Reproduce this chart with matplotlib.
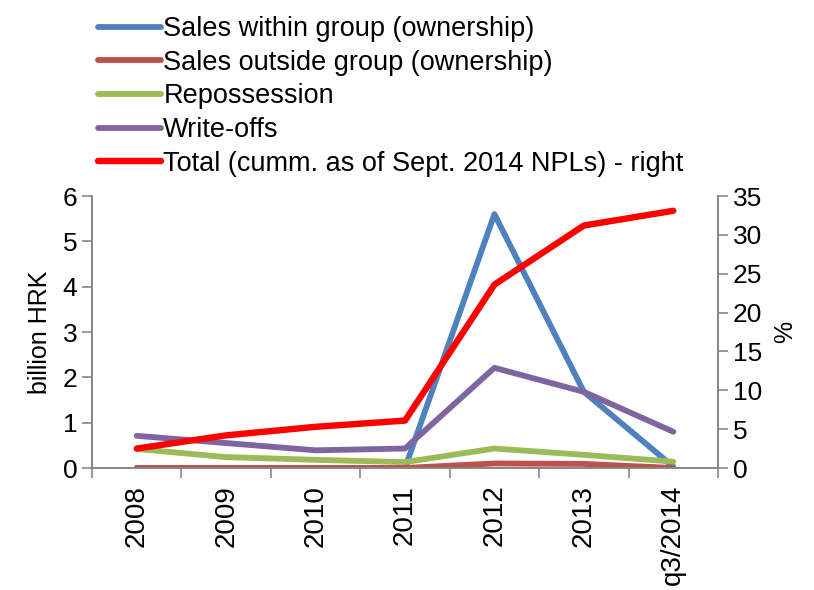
import numpy as np
import matplotlib.pyplot as plt

plt.rcParams['font.family'] = ['Liberation Sans Narrow', 'Liberation Sans', 'DejaVu Sans']

# data
years = ['2008', '2009', '2010', '2011', '2012', '2013', 'q3/2014']
sales_within = [0.0, 0.0, 0.0, 0.0, 5.6, 1.68, 0.03]
sales_outside = [0.0, 0.0, 0.0, 0.0, 0.1, 0.09, 0.0]
repossession = [0.42, 0.24, 0.18, 0.13, 0.43, 0.29, 0.14]
write_offs = [0.71, 0.55, 0.39, 0.43, 2.21, 1.68, 0.80]
total_pct = [2.5, 4.2, 5.3, 6.1, 23.6, 31.2, 33.1]

labels = ['Sales within group (ownership)',
          'Sales outside group (ownership)',
          'Repossession',
          'Write-offs',
          'Total (cumm. as of Sept. 2014 NPLs) - right']
colors = ['#4F81BD', '#C0504D', '#9BBB59', '#8064A2', '#FF0000']
grey = '#868686'

fig = plt.figure(figsize=(8.14, 5.9), dpi=100)
ax = fig.add_axes([92/814, 122/590, 626/814, 272/590])
ax2 = ax.twinx()

x = np.arange(len(years))
lw = 4.2
handles = []
for ser, c, lab in zip([sales_within, sales_outside, repossession, write_offs], colors[:4], labels[:4]):
    h, = ax.plot(x, ser, color=c, lw=lw, label=lab, solid_capstyle='round')
    handles.append(h)
h, = ax2.plot(x, total_pct, color=colors[4], lw=4.6, label=labels[4], solid_capstyle='round')
handles.append(h)

ax.set_xlim(-0.5, len(years) - 0.5)
ax.set_ylim(0, 6)
ax2.set_ylim(0, 35)
ax.set_yticks(range(0, 7))
ax2.set_yticks(range(0, 36, 5))

ax.set_xticks(x)
ax.set_xticklabels(years, rotation=90, fontsize=20)
ax.set_xticks(np.arange(-0.5, len(years), 1), minor=True)
ax.tick_params(axis='x', which='major', length=0, pad=12)
ax.tick_params(axis='x', which='minor', length=7, width=1.2, color=grey, direction='out')
ax.tick_params(axis='y', labelsize=19, length=7, width=1.2, color=grey, direction='out')
ax2.tick_params(axis='y', labelsize=19, length=7, width=1.2, color=grey, direction='out')

for a in (ax, ax2):
    a.spines['top'].set_visible(False)
    for s in ('left', 'right', 'bottom'):
        a.spines[s].set_color(grey)
        a.spines[s].set_linewidth(1.2)

ax.set_ylabel('billion HRK', fontsize=18, labelpad=8)
ax2.set_ylabel('%', fontsize=18, labelpad=8)

fig.legend(handles=handles, labels=labels, loc='upper left',
           bbox_to_anchor=(82/814, 1.0), frameon=False, fontsize=19.5,
           handlelength=2.3, handletextpad=0.1, labelspacing=0.28,
           borderaxespad=0.2)

fig.savefig('out.png', dpi=100)
